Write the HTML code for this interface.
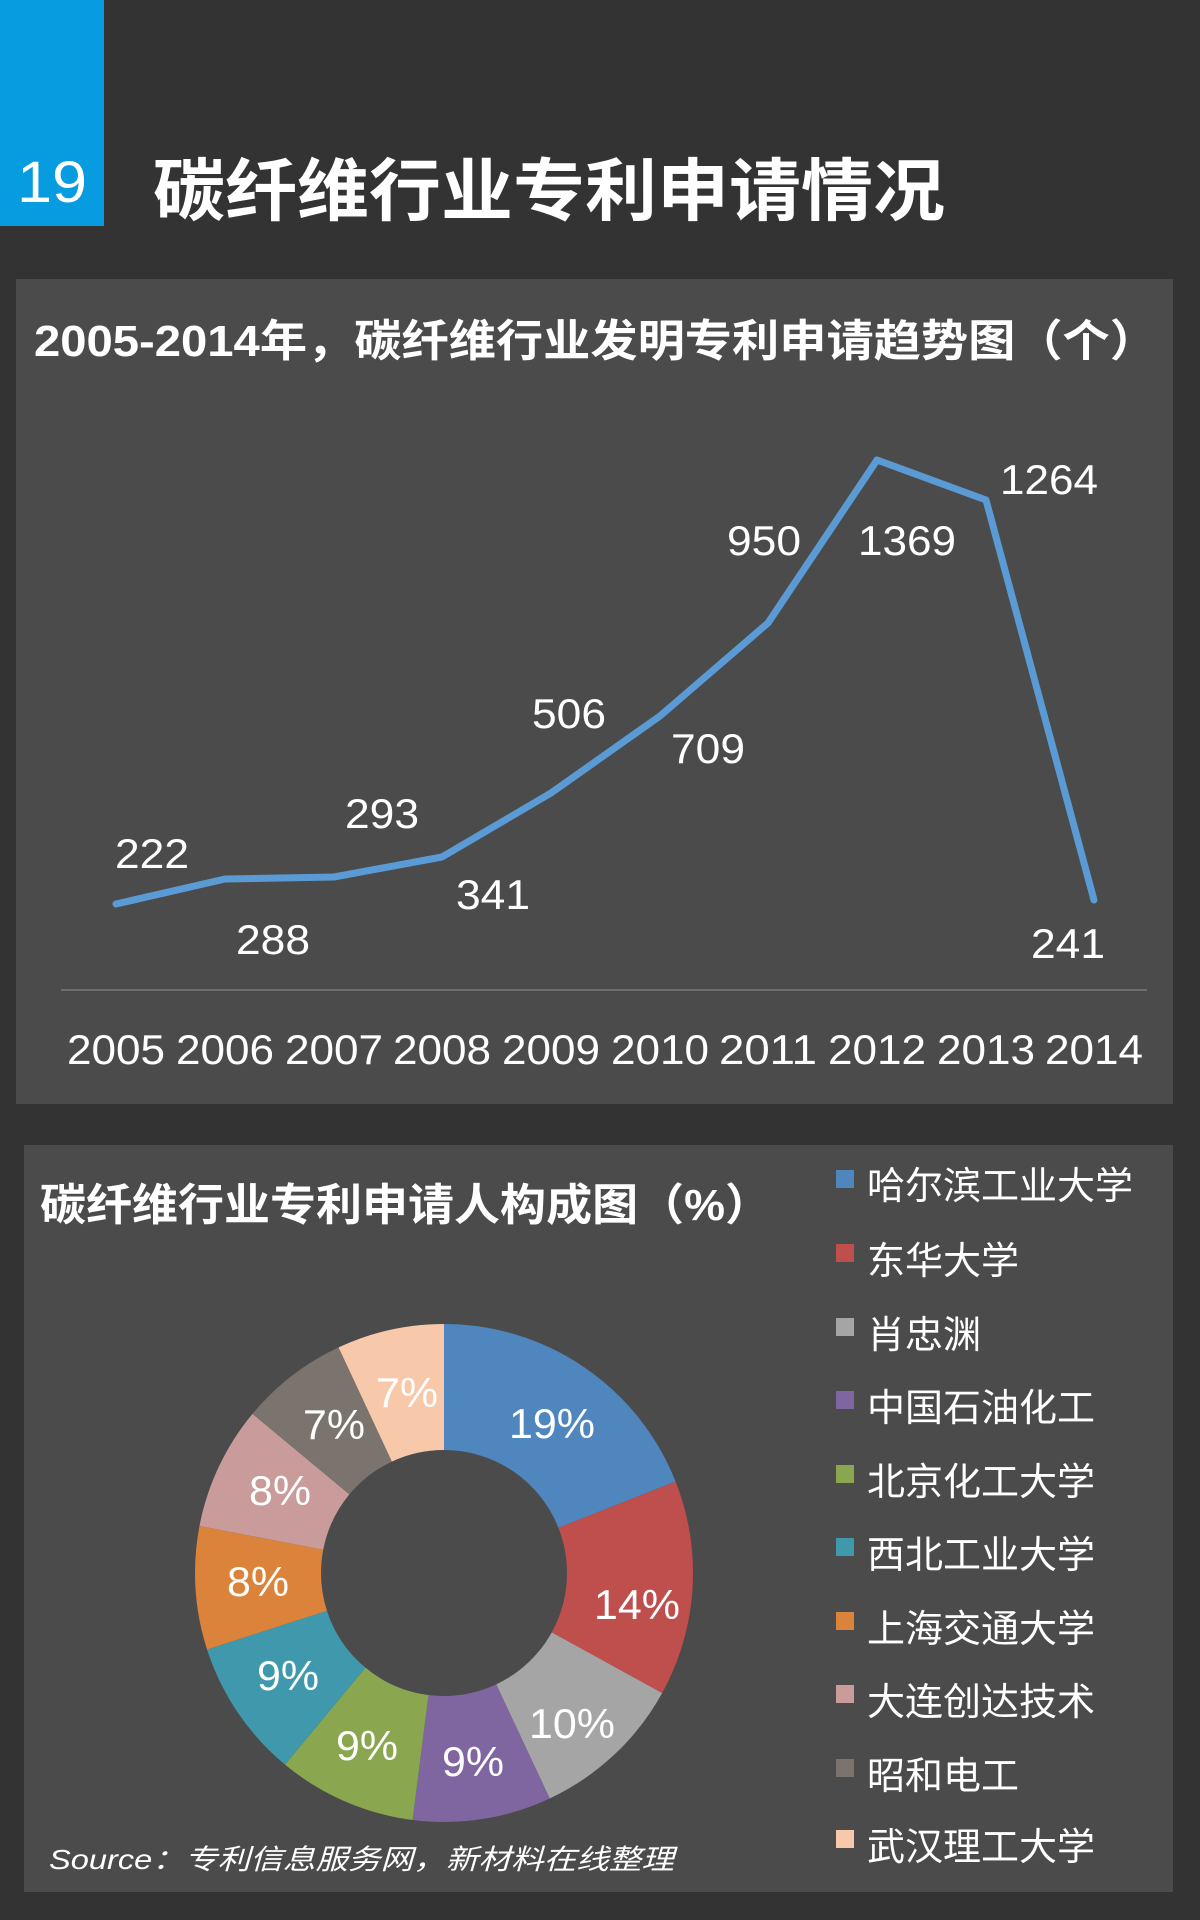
<!DOCTYPE html>
<html><head><meta charset="utf-8"><style>
html,body{margin:0;padding:0;background:#333;}
svg{display:block;}
text{font-family:"Liberation Sans","Noto Sans CJK SC",sans-serif;fill:#fff;}
</style></head><body>
<svg width="1200" height="1920" viewBox="0 0 1200 1920" xmlns="http://www.w3.org/2000/svg">
<rect width="1200" height="1920" fill="#333"/>
<rect x="0" y="0" width="104" height="226" fill="#079be0"/>
<text x="52" y="202" font-size="58" text-anchor="middle" textLength="70" lengthAdjust="spacingAndGlyphs">19</text>
<text x="153" y="215" font-size="68" font-weight="bold" textLength="792" lengthAdjust="spacingAndGlyphs">碳纤维行业专利申请情况</text>

<rect x="16" y="279" width="1157" height="825" fill="#4b4b4b"/>
<text x="34" y="356" font-size="44" font-weight="bold" textLength="1123" lengthAdjust="spacingAndGlyphs">2005-2014年，碳纤维行业发明专利申请趋势图（个）</text>
<line x1="61" y1="990" x2="1147" y2="990" stroke="#7a7a7a" stroke-width="1.5"/>
<polyline fill="none" stroke="#5b9bd5" stroke-width="7" stroke-linejoin="round" stroke-linecap="round"
 points="116,904 225,879 334,877 442,857 551,793 660,716 768,623 877,460 986,500 1094,900"/>
<g font-size="42" text-anchor="middle">
<text x="152" y="868" textLength="74" lengthAdjust="spacingAndGlyphs">222</text>
<text x="273" y="954" textLength="74" lengthAdjust="spacingAndGlyphs">288</text>
<text x="382" y="828" textLength="74" lengthAdjust="spacingAndGlyphs">293</text>
<text x="493" y="909" textLength="74" lengthAdjust="spacingAndGlyphs">341</text>
<text x="569" y="728" textLength="74" lengthAdjust="spacingAndGlyphs">506</text>
<text x="708" y="763" textLength="74" lengthAdjust="spacingAndGlyphs">709</text>
<text x="764" y="555" textLength="74" lengthAdjust="spacingAndGlyphs">950</text>
<text x="907" y="555" textLength="98" lengthAdjust="spacingAndGlyphs">1369</text>
<text x="1049" y="494" textLength="98" lengthAdjust="spacingAndGlyphs">1264</text>
<text x="1068" y="958" textLength="74" lengthAdjust="spacingAndGlyphs">241</text>
</g>
<g font-size="42" text-anchor="middle">
<text x="116" y="1064" textLength="98" lengthAdjust="spacingAndGlyphs">2005</text>
<text x="225" y="1064" textLength="98" lengthAdjust="spacingAndGlyphs">2006</text>
<text x="334" y="1064" textLength="98" lengthAdjust="spacingAndGlyphs">2007</text>
<text x="442" y="1064" textLength="98" lengthAdjust="spacingAndGlyphs">2008</text>
<text x="551" y="1064" textLength="98" lengthAdjust="spacingAndGlyphs">2009</text>
<text x="660" y="1064" textLength="98" lengthAdjust="spacingAndGlyphs">2010</text>
<text x="768" y="1064" textLength="98" lengthAdjust="spacingAndGlyphs">2011</text>
<text x="877" y="1064" textLength="98" lengthAdjust="spacingAndGlyphs">2012</text>
<text x="986" y="1064" textLength="98" lengthAdjust="spacingAndGlyphs">2013</text>
<text x="1094" y="1064" textLength="98" lengthAdjust="spacingAndGlyphs">2014</text>
</g>

<rect x="24" y="1145" width="1149" height="747" fill="#4b4b4b"/>
<text x="40" y="1220" font-size="44" font-weight="bold" textLength="731" lengthAdjust="spacingAndGlyphs">碳纤维行业专利申请人构成图（%）</text>

<g transform="rotate(-90 444 1573)" fill="none" stroke-width="126">
<circle cx="444" cy="1573" r="186" stroke="#4f86be" stroke-dasharray="222.05 2000" stroke-dashoffset="0"/>
<circle cx="444" cy="1573" r="186" stroke="#bf4f4d" stroke-dasharray="163.61 2000" stroke-dashoffset="-222.05"/>
<circle cx="444" cy="1573" r="186" stroke="#a5a5a5" stroke-dasharray="116.87 2000" stroke-dashoffset="-385.66"/>
<circle cx="444" cy="1573" r="186" stroke="#7f66a0" stroke-dasharray="105.18 2000" stroke-dashoffset="-502.53"/>
<circle cx="444" cy="1573" r="186" stroke="#8aa64e" stroke-dasharray="105.18 2000" stroke-dashoffset="-607.71"/>
<circle cx="444" cy="1573" r="186" stroke="#3f98ab" stroke-dasharray="105.18 2000" stroke-dashoffset="-712.89"/>
<circle cx="444" cy="1573" r="186" stroke="#db833a" stroke-dasharray="93.49 2000" stroke-dashoffset="-818.07"/>
<circle cx="444" cy="1573" r="186" stroke="#c99c9b" stroke-dasharray="93.49 2000" stroke-dashoffset="-911.56"/>
<circle cx="444" cy="1573" r="186" stroke="#7b736d" stroke-dasharray="81.81 2000" stroke-dashoffset="-1005.05"/>
<circle cx="444" cy="1573" r="186" stroke="#f7c8a9" stroke-dasharray="81.81 2000" stroke-dashoffset="-1086.86"/>
</g>
<g font-size="42" text-anchor="middle">
<text x="552" y="1438" textLength="86" lengthAdjust="spacingAndGlyphs">19%</text>
<text x="637" y="1619" textLength="86" lengthAdjust="spacingAndGlyphs">14%</text>
<text x="572" y="1738" textLength="86" lengthAdjust="spacingAndGlyphs">10%</text>
<text x="473" y="1776" textLength="62" lengthAdjust="spacingAndGlyphs">9%</text>
<text x="367" y="1760" textLength="62" lengthAdjust="spacingAndGlyphs">9%</text>
<text x="288" y="1690" textLength="62" lengthAdjust="spacingAndGlyphs">9%</text>
<text x="258" y="1596" textLength="62" lengthAdjust="spacingAndGlyphs">8%</text>
<text x="280" y="1505" textLength="62" lengthAdjust="spacingAndGlyphs">8%</text>
<text x="334" y="1439" textLength="62" lengthAdjust="spacingAndGlyphs">7%</text>
<text x="407" y="1407" textLength="62" lengthAdjust="spacingAndGlyphs">7%</text>
</g>

<g font-size="38">
<rect x="836" y="1170" width="18" height="18" fill="#4f86be"/><text x="867" y="1199">哈尔滨工业大学</text>
<rect x="836" y="1244" width="18" height="18" fill="#bf4f4d"/><text x="867" y="1274">东华大学</text>
<rect x="836" y="1318" width="18" height="18" fill="#a5a5a5"/><text x="867" y="1348">肖忠渊</text>
<rect x="836" y="1391" width="18" height="18" fill="#7f66a0"/><text x="867" y="1421">中国石油化工</text>
<rect x="836" y="1465" width="18" height="18" fill="#8aa64e"/><text x="867" y="1495">北京化工大学</text>
<rect x="836" y="1538" width="18" height="18" fill="#3f98ab"/><text x="867" y="1568">西北工业大学</text>
<rect x="836" y="1612" width="18" height="18" fill="#db833a"/><text x="867" y="1642">上海交通大学</text>
<rect x="836" y="1685" width="18" height="18" fill="#c99c9b"/><text x="867" y="1715">大连创达技术</text>
<rect x="836" y="1759" width="18" height="18" fill="#7b736d"/><text x="867" y="1789">昭和电工</text>
<rect x="836" y="1830" width="18" height="18" fill="#f7c8a9"/><text x="867" y="1860">武汉理工大学</text>
</g>
<text x="49" y="1869" font-size="28" font-style="italic" textLength="625" lengthAdjust="spacingAndGlyphs">Source：专利信息服务网，新材料在线整理</text>
</svg>
</body></html>
